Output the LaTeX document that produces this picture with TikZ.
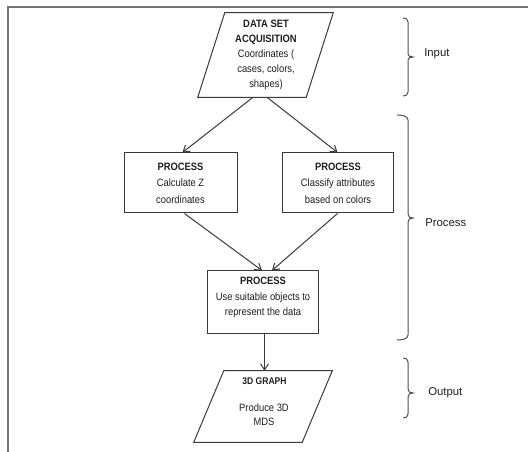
\documentclass[tikz,border=0pt]{standalone}
\usepackage{fontspec}
\setmainfont{Liberation Sans}
\newfontfamily\boxfont[FakeStretch=0.88]{Liberation Sans}
\usetikzlibrary{arrows.meta,calc}
\definecolor{framec}{HTML}{767676}
\definecolor{linec}{HTML}{3a3a3a}
\definecolor{txtc}{HTML}{1e1e1e}
\definecolor{bracec}{HTML}{505050}
\begin{document}
\begin{tikzpicture}[x=0.75pt,y=-0.75pt,
  frame/.style={draw=framec,line width=1.4pt},
  procbox/.style={draw=linec,line width=0.75pt,rectangle,inner sep=0pt},
  ioarea/.style={rectangle,inner sep=0pt},
  ioshape/.style={draw=linec,line width=0.75pt,line join=miter},
  txt/.style={text=txtc,font=\boxfont\fontsize{8}{11.25}\selectfont,align=center,inner sep=0pt},
  boxtxt/.style={text=txtc,font=\boxfont\fontsize{8}{12.4}\selectfont,align=center,inner sep=0pt},
  lab/.style={text=txtc,font=\fontsize{8.5}{10}\selectfont,inner sep=0pt,anchor=west},
  conn/.style={draw=linec,line width=0.75pt,-{Straight Barb[length=4.5pt,width=6pt]}},
  brc/.style={draw=bracec,line width=0.75pt}]
\useasboundingbox (0,0) rectangle (528,452);
% frame
\draw[frame] (8,452) -- (8,7) -- (528,7);

% shapes
\node[ioarea,minimum width=101.25pt,minimum height=63pt] (acq) at (265.5,55) {};
\draw[ioshape] (acq.south west) -- ($(acq.north west)+(27,0)$) -- (acq.north east)
  -- ($(acq.south east)+(-27,0)$) -- cycle;
\node[procbox,minimum width=84.75pt,minimum height=45pt] (calcz) at (180.5,183) {};
\node[procbox,minimum width=83.25pt,minimum height=45pt] (classify) at (337.5,183) {};
\node[procbox,minimum width=83.25pt,minimum height=46.5pt] (objects) at (262.5,302) {};
\node[ioarea,minimum width=103.5pt,minimum height=53.25pt] (graph) at (263,406.5) {};
\draw[ioshape] (graph.south west) -- ($(graph.north west)+(30,0)$) -- (graph.north east)
  -- ($(graph.south east)+(-30,0)$) -- cycle;

% texts
\node[txt] (acqt) at (266,55) {\textbf{DATA SET}\\\textbf{ACQUISITION}\\Coordinates (\\cases, colors,\\shapes)};
\node[boxtxt] (calczt) at (180.5,183) {\textbf{PROCESS}\\Calculate Z\\coordinates};
\node[boxtxt] (classifyt) at (338,183) {\textbf{PROCESS}\\Classify attributes\\based on colors};
\node[txt,font=\boxfont\fontsize{8}{11.6}\selectfont] (objectst) at (263,297.5) {\textbf{PROCESS}\\Use suitable objects to\\represent the data};
\node[txt,font=\boxfont\fontsize{7.3}{9}\selectfont] (grapht) at (264.5,381) {\textbf{3D GRAPH}};
\node[txt,font=\boxfont\fontsize{8}{10.5}\selectfont] (graphb) at (264,415) {Produce 3D\\MDS};

% connectors
\draw[conn] ($(acq.south)+(-12.5,0)$) -- ($(calcz.north)+(2,0)$);
\draw[conn] ($(acq.south)+(1.5,0)$) -- (classify.north);
\draw[conn] ($(calcz.south)+(4,0)$) -- ($(objects.north)+(-0.5,0)$);
\draw[conn] (classify.south) -- ($(objects.north)+(9.5,0)$);
\coordinate (odrop) at ($(objects.south)+(2,0)$);
\draw[conn] (odrop) -- (odrop |- graph.north);

% braces
\draw[brc] (403,18) .. controls (406,18) and (408,19) .. (408,22) -- (408,54)
  .. controls (408,56) and (410,57) .. (413,57)
  .. controls (410,57) and (408,58) .. (408,60) -- (408,92)
  .. controls (408,95) and (406,96) .. (403,96);
\draw[brc] (397,115) .. controls (402,115) and (408,116) .. (408,120) -- (408,214)
  .. controls (408,217) and (410,218) .. (413,218)
  .. controls (410,218) and (408,219) .. (408,222) -- (408,335)
  .. controls (408,339) and (402,340) .. (397,340);
\draw[brc] (403,358) .. controls (406,358) and (408,359) .. (408,362) -- (408,389)
  .. controls (408,392) and (410,393) .. (413,393)
  .. controls (410,393) and (408,394) .. (408,397) -- (408,414)
  .. controls (408,417) and (406,418) .. (403,418);

% brace labels
\node[lab] (inlab) at (424,54) {Input};
\node[lab] (proclab) at (425,223) {Process};
\node[lab] (outlab) at (428,393) {Output};
\end{tikzpicture}
\end{document}
